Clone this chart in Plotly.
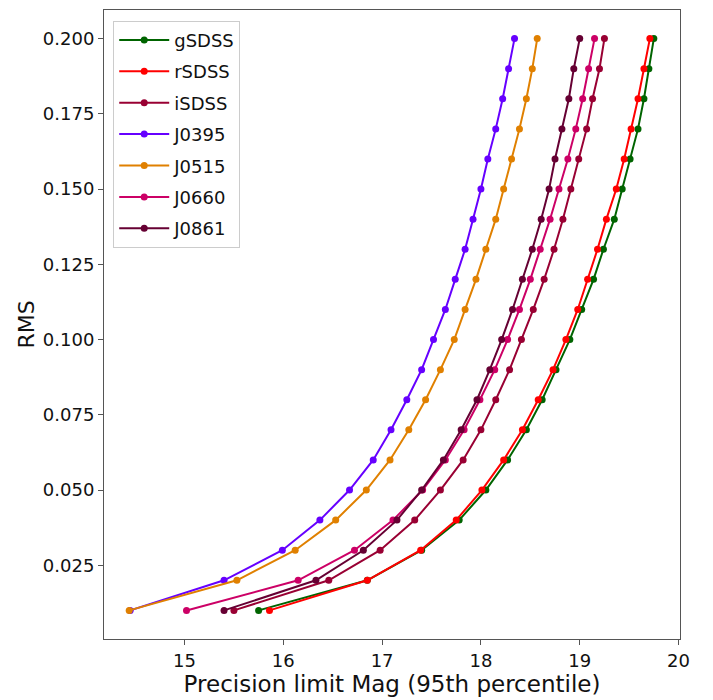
import plotly.graph_objects as go

rms = [0.01, 0.02, 0.03, 0.04, 0.05, 0.06, 0.07, 0.08, 0.09, 0.10,
       0.11, 0.12, 0.13, 0.14, 0.15, 0.16, 0.17, 0.18, 0.19, 0.20]

gSDSS = [15.75, 16.85, 17.40, 17.78, 18.05, 18.27, 18.46, 18.62, 18.76, 18.90,
         19.02, 19.14, 19.24, 19.35, 19.43, 19.51, 19.59, 19.65, 19.70, 19.75]
rSDSS = [15.86, 16.85, 17.39, 17.75, 18.01, 18.23, 18.42, 18.58, 18.73, 18.86,
         18.98, 19.08, 19.18, 19.27, 19.37, 19.45, 19.52, 19.59, 19.65, 19.71]
iSDSS = [15.50, 16.46, 16.98, 17.33, 17.59, 17.82, 18.00, 18.15, 18.29, 18.41,
         18.53, 18.64, 18.74, 18.83, 18.91, 18.99, 19.07, 19.13, 19.20, 19.25]
J0395 = [14.45, 15.40, 15.99, 16.37, 16.67, 16.91, 17.09, 17.25, 17.40, 17.52,
         17.64, 17.74, 17.84, 17.92, 18.00, 18.07, 18.15, 18.22, 18.28, 18.34]
J0515 = [14.44, 15.53, 16.12, 16.53, 16.84, 17.08, 17.27, 17.44, 17.59, 17.73,
         17.84, 17.95, 18.05, 18.15, 18.23, 18.31, 18.39, 18.46, 18.52, 18.57]
J0660 = [15.02, 16.15, 16.72, 17.11, 17.41, 17.64, 17.83, 17.99, 18.14, 18.27,
         18.39, 18.50, 18.60, 18.70, 18.79, 18.88, 18.96, 19.03, 19.09, 19.15]
J0861 = [15.40, 16.33, 16.81, 17.15, 17.40, 17.62, 17.80, 17.96, 18.09, 18.21,
         18.32, 18.42, 18.52, 18.61, 18.69, 18.75, 18.82, 18.89, 18.94, 19.00]

names = ["gSDSS", "rSDSS", "iSDSS", "J0395", "J0515", "J0660", "J0861"]
series = [gSDSS, rSDSS, iSDSS, J0395, J0515, J0660, J0861]
colors = ["#006400", "#ff0000", "#990033", "#6600ff", "#e08000", "#cc0066", "#660033"]

fig = go.Figure()
for name, xs, c in zip(names, series, colors):
    fig.add_trace(go.Scatter(
        x=xs, y=rms, mode="lines+markers", name=name, legendgroup=name,
        line=dict(color=c, width=2), marker=dict(color=c, size=7)))

font = "DejaVu Sans, sans-serif"
axis_common = dict(showline=True, linecolor="#555", linewidth=1, mirror=True,
                   ticks="outside", ticklen=5, tickcolor="#555", showgrid=False,
                   zeroline=False, tickfont=dict(family=font, size=18, color="#111"))

fig.update_layout(
    width=713, height=700,
    margin=dict(l=104, r=33, t=9, b=60),
    plot_bgcolor="white", paper_bgcolor="white",
    font=dict(family=font, color="#111"),
    xaxis=dict(range=[14.185, 20.015], dtick=1, tick0=0,
               title=dict(text="Precision limit Mag (95th percentile)",
                          font=dict(family=font, size=23), standoff=4),
               **axis_common),
    yaxis=dict(range=[0.0005, 0.2095], dtick=0.025, tick0=0, tickformat=".3f",
               title=dict(text="RMS", font=dict(family=font, size=22), standoff=2),
               **axis_common),
    legend=dict(x=0.016, y=0.983, xanchor="left", yanchor="top",
                bordercolor="#cccccc", borderwidth=1, bgcolor="rgba(255,255,255,0.8)",
                font=dict(family=font, size=18), tracegroupgap=5,
                traceorder="grouped", itemwidth=50),
)

fig.write_html("out.html")
